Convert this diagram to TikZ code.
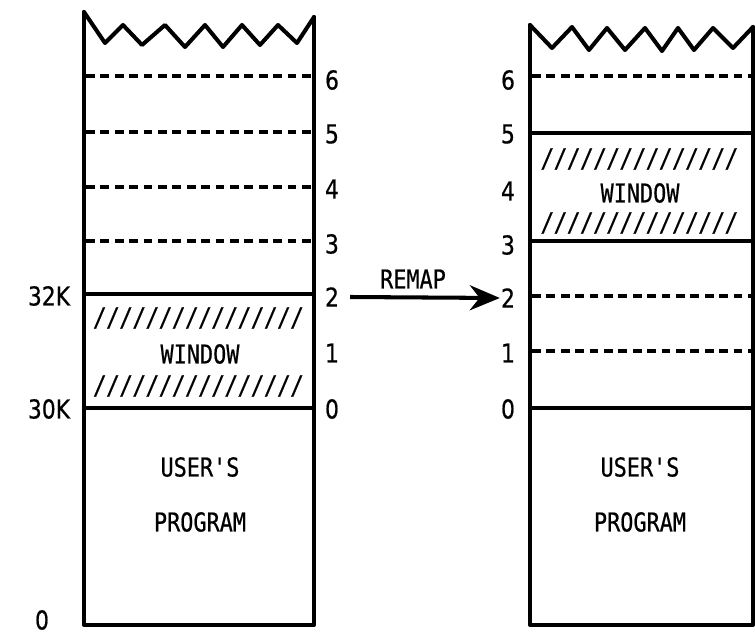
\documentclass[tikz,border=0pt]{standalone}
\usepackage{fontspec}
\setmonofont[FakeStretch=0.84, FakeBold=0.6]{DejaVu Sans Mono}
\newfontfamily\numfont[FakeStretch=0.84, FakeBold=0.6]{DejaVu Sans}
\usepackage{tikz}
\usetikzlibrary{arrows.meta}
\tikzset{memwall/.style={line width=2.3pt, line join=round, line cap=round}}
\tikzset{pageline/.style={line width=1.8pt, dash pattern=on 5pt off 3.2pt}}
\tikzset{lbl/.style={inner sep=0.5pt, font=\ttfamily\fontsize{14.8}{17}\selectfont}}
\tikzset{num/.style={inner sep=0.5pt, font=\numfont\fontsize{14.8}{17}\selectfont}}
\tikzset{hatch/.style={lbl, font=\ttfamily\fontsize{14.8}{17}\selectfont\itshape}}

\begin{document}
\begin{tikzpicture}[x=0.02cm, y=-0.02cm, >=Stealth]
  \useasboundingbox (0,0) rectangle (755,635);
  % left memory, before remapping
  \draw[memwall] (84,12) -- (105,43) -- (123,25) -- (142,45) -- (165,25) -- (185,47)
    -- (205,25) -- (223,47) -- (242,25) -- (260,45) -- (278,25) -- (297,43) -- (314,17);
  \draw[memwall] (84,12) -- (84,625) -- (314,625) -- (314,17);
  \foreach \y in {76,132,187,241}
    \draw[pageline] (86,\y) -- (312,\y);
  \draw[memwall] (84,294) -- (314,294);
  \draw[memwall] (84,408) -- (314,408);
  \node[num] (l6) at (332,80) {6};
  \node[num] (l5) at (332,134) {5};
  \node[num] (l4) at (332,189) {4};
  \node[num] (l3) at (332,244) {3};
  \node[num] (l2) at (332,297) {2};
  \node[num] (l1) at (332,353) {1};
  \node[num] (l0) at (332,409) {0};
  \node[num] (k32) at (49,296) {32K};
  \node[num] (k30) at (49,409) {30K};
  \node[num] (k0) at (42,620) {0};
  \node[hatch] (lhu) at (199,318) {////////////////};
  \node[lbl] (lwin) at (200,354) {WINDOW};
  \node[hatch] (lhd) at (199,386) {////////////////};
  \node[lbl] (luser) at (200,467) {USER'S};
  \node[lbl] (lprog) at (200,522) {PROGRAM};

  % right memory, after remapping
  \draw[memwall] (530,25) -- (552,48) -- (572,27) -- (589,50) -- (607,28) -- (625,50)
    -- (645,28) -- (662,51) -- (678,28) -- (694,50) -- (713,28) -- (733,48) -- (753,27);
  \draw[memwall] (530,25) -- (530,625) -- (753,625) -- (753,27);
  \foreach \y in {76,296,351}
    \draw[pageline] (532,\y) -- (751,\y);
  \draw[memwall] (530,133) -- (753,133);
  \draw[memwall] (530,241) -- (753,241);
  \draw[memwall] (530,408) -- (753,408);
  \node[num] (r6) at (508,80) {6};
  \node[num] (r5) at (508,134) {5};
  \node[num] (r4) at (508,191) {4};
  \node[num] (r3) at (508,245) {3};
  \node[num] (r2) at (508,298) {2};
  \node[num] (r1) at (508,353) {1};
  \node[num] (r0) at (508,409) {0};
  \node[hatch] (rhu) at (640,159) {///////////////};
  \node[lbl] (rwin) at (640,193) {WINDOW};
  \node[hatch] (rhd) at (640,223) {///////////////};
  \node[lbl] (ruser) at (640,467) {USER'S};
  \node[lbl] (rprog) at (640,522) {PROGRAM};

  % remap arrow
  \coordinate (rs) at ([xshift=0.2cm]l2.east);
  \draw[-{Stealth[length=6mm, width=5mm]}, line width=2.3pt] (rs) -- (r2.west);
  \node[lbl] (remap) at (413,279) {REMAP};
\end{tikzpicture}
\end{document}
